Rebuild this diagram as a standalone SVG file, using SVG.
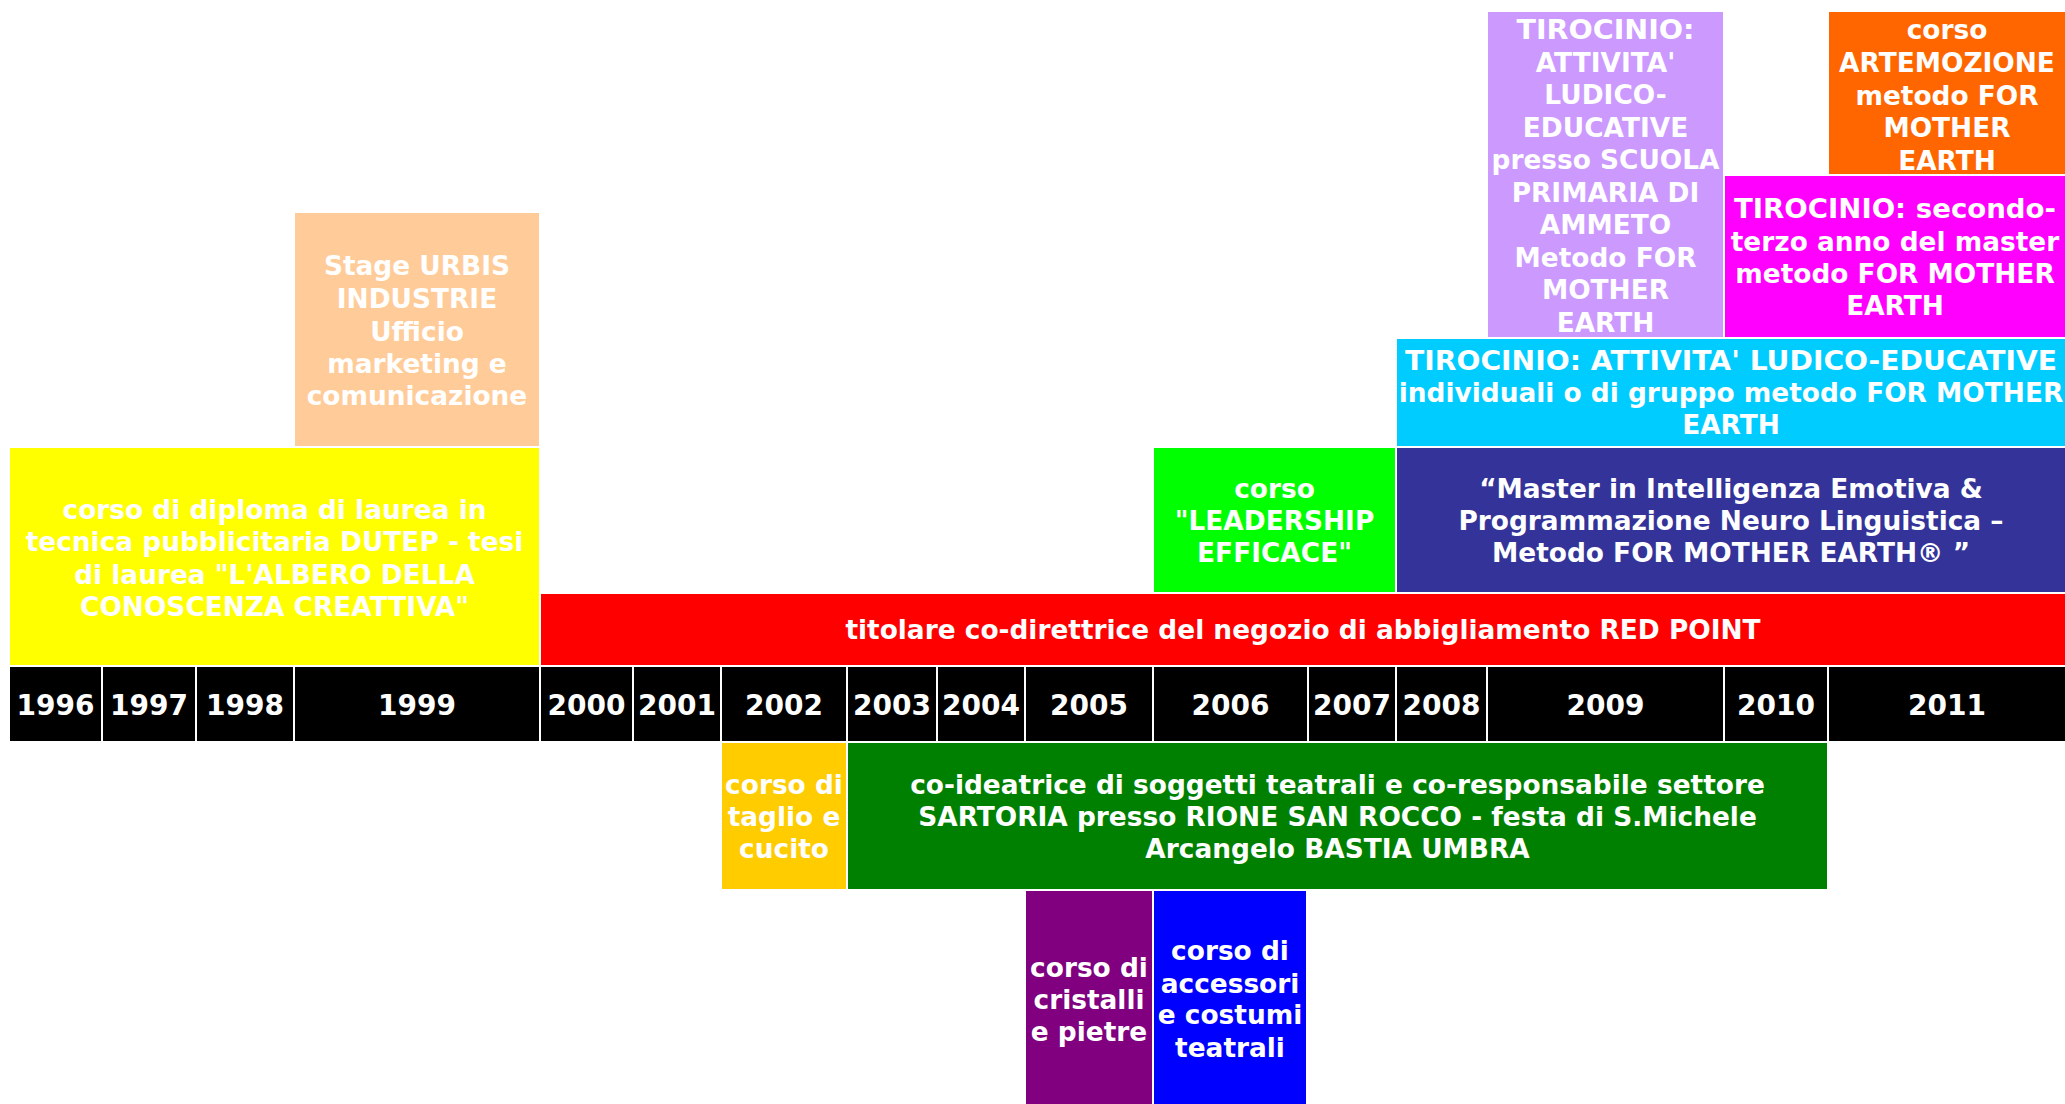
<svg xmlns="http://www.w3.org/2000/svg" width="2065" height="1104" viewBox="0 0 2065 1104">
<style>
text{font-family:"DejaVu Sans","Liberation Sans",sans-serif;font-weight:bold;fill:#fff;text-anchor:middle;font-size:26.4px}
.yr{font-size:28px}
</style>
<rect width="2065" height="1104" fill="#fff"/>
<g id="years">
<rect x="10" y="667" width="91" height="74"/><text class="yr" x="55.5" y="715">1996</text>
<rect x="103" y="667" width="92" height="74"/><text class="yr" x="149" y="715">1997</text>
<rect x="197" y="667" width="96" height="74"/><text class="yr" x="245" y="715">1998</text>
<rect x="295" y="667" width="244" height="74"/><text class="yr" x="417" y="715">1999</text>
<rect x="541" y="667" width="91" height="74"/><text class="yr" x="586.5" y="715">2000</text>
<rect x="634" y="667" width="86" height="74"/><text class="yr" x="677" y="715">2001</text>
<rect x="722" y="667" width="124" height="74"/><text class="yr" x="784" y="715">2002</text>
<rect x="848" y="667" width="88" height="74"/><text class="yr" x="892" y="715">2003</text>
<rect x="938" y="667" width="86" height="74"/><text class="yr" x="981" y="715">2004</text>
<rect x="1026" y="667" width="126" height="74"/><text class="yr" x="1089" y="715">2005</text>
<rect x="1154" y="667" width="153" height="74"/><text class="yr" x="1230.5" y="715">2006</text>
<rect x="1309" y="667" width="86" height="74"/><text class="yr" x="1352" y="715">2007</text>
<rect x="1397" y="667" width="89" height="74"/><text class="yr" x="1441.5" y="715">2008</text>
<rect x="1488" y="667" width="235" height="74"/><text class="yr" x="1605.5" y="715">2009</text>
<rect x="1725" y="667" width="102" height="74"/><text class="yr" x="1776" y="715">2010</text>
<rect x="1829" y="667" width="236" height="74"/><text class="yr" x="1947" y="715">2011</text>
</g>
<g id="stage-urbis">
<rect x="295" y="213" width="244" height="233" fill="#FFCC99"/>
<text x="417"><tspan x="417" y="275">Stage URBIS</tspan><tspan x="417" y="308">INDUSTRIE</tspan><tspan x="417" y="341">Ufficio</tspan><tspan x="417" y="373">marketing e</tspan><tspan x="417" y="405">comunicazione</tspan></text>
</g>
<g id="dutep">
<rect x="10" y="448" width="529" height="217" fill="#FFFF00"/>
<text x="274.5"><tspan x="274.5" y="519">corso di diploma di laurea in</tspan><tspan x="274.5" y="551">tecnica pubblicitaria DUTEP - tesi</tspan><tspan x="274.5" y="584">di laurea "L'ALBERO DELLA</tspan><tspan x="274.5" y="616">CONOSCENZA CREATTIVA"</tspan></text>
</g>
<g id="red-point">
<rect x="541" y="594" width="1524" height="71" fill="#FF0000"/>
<text x="1303" y="639">titolare co-direttrice del negozio di abbigliamento RED POINT</text>
</g>
<g id="leadership">
<rect x="1154" y="448" width="241" height="144" fill="#00FF00"/>
<text x="1274.5"><tspan x="1274.5" y="498">corso</tspan><tspan x="1274.5" y="530">"LEADERSHIP</tspan><tspan x="1274.5" y="562">EFFICACE"</tspan></text>
</g>
<g id="master">
<rect x="1397" y="448" width="668" height="144" fill="#333399"/>
<text x="1731"><tspan x="1731" y="498">“Master in Intelligenza Emotiva &amp;</tspan><tspan x="1731" y="530">Programmazione Neuro Linguistica –</tspan><tspan x="1731" y="562">Metodo FOR MOTHER EARTH® ”</tspan></text>
</g>
<g id="tirocinio-individuali">
<rect x="1397" y="339" width="668" height="107" fill="#00CCFF"/>
<text x="1731" y="370" textLength="652" lengthAdjust="spacingAndGlyphs">TIROCINIO: ATTIVITA' LUDICO-EDUCATIVE</text>
<text x="1731"><tspan x="1731" y="402">individuali o di gruppo metodo FOR MOTHER</tspan><tspan x="1731" y="434">EARTH</tspan></text>
</g>
<g id="tirocinio-ammeto">
<rect x="1488" y="12" width="235" height="325" fill="#CC99FF"/>
<text x="1605.5" y="39" textLength="178" lengthAdjust="spacingAndGlyphs">TIROCINIO:</text>
<text x="1605.5"><tspan x="1605.5" y="72">ATTIVITA'</tspan><tspan x="1605.5" y="104">LUDICO-</tspan><tspan x="1605.5" y="137">EDUCATIVE</tspan><tspan x="1605.5" y="169">presso SCUOLA</tspan><tspan x="1605.5" y="202">PRIMARIA DI</tspan><tspan x="1605.5" y="234">AMMETO</tspan><tspan x="1605.5" y="267">Metodo FOR</tspan><tspan x="1605.5" y="299">MOTHER</tspan><tspan x="1605.5" y="332">EARTH</tspan></text>
</g>
<g id="tirocinio-master">
<rect x="1725" y="176" width="340" height="161" fill="#FF00FF"/>
<text x="1895" y="218" textLength="322" lengthAdjust="spacingAndGlyphs">TIROCINIO: secondo-</text>
<text x="1895"><tspan x="1895" y="251">terzo anno del master</tspan><tspan x="1895" y="283">metodo FOR MOTHER</tspan><tspan x="1895" y="315">EARTH</tspan></text>
</g>
<g id="artemozione">
<rect x="1829" y="12" width="236" height="162" fill="#FF6600"/>
<text x="1947"><tspan x="1947" y="39">corso</tspan><tspan x="1947" y="72">ARTEMOZIONE</tspan><tspan x="1947" y="105">metodo FOR</tspan><tspan x="1947" y="137">MOTHER</tspan><tspan x="1947" y="170">EARTH</tspan></text>
</g>
<g id="taglio-cucito">
<rect x="722" y="743" width="124" height="146" fill="#FFCC00"/>
<text x="784"><tspan x="784" y="794">corso di</tspan><tspan x="784" y="826">taglio e</tspan><tspan x="784" y="858">cucito</tspan></text>
</g>
<g id="san-rocco">
<rect x="848" y="743" width="979" height="146" fill="#008000"/>
<text x="1337.5"><tspan x="1337.5" y="794">co-ideatrice di soggetti teatrali e co-responsabile settore</tspan><tspan x="1337.5" y="826">SARTORIA presso RIONE SAN ROCCO - festa di S.Michele</tspan><tspan x="1337.5" y="858">Arcangelo BASTIA UMBRA</tspan></text>
</g>
<g id="cristalli">
<rect x="1026" y="891" width="126" height="213" fill="#800080"/>
<text x="1089"><tspan x="1089" y="977">corso di</tspan><tspan x="1089" y="1009">cristalli</tspan><tspan x="1089" y="1041">e pietre</tspan></text>
</g>
<g id="accessori">
<rect x="1154" y="891" width="152" height="213" fill="#0000FF"/>
<text x="1230"><tspan x="1230" y="960">corso di</tspan><tspan x="1230" y="993">accessori</tspan><tspan x="1230" y="1024">e costumi</tspan><tspan x="1230" y="1057">teatrali</tspan></text>
</g>
<g id="connectors"></g>
</svg>
